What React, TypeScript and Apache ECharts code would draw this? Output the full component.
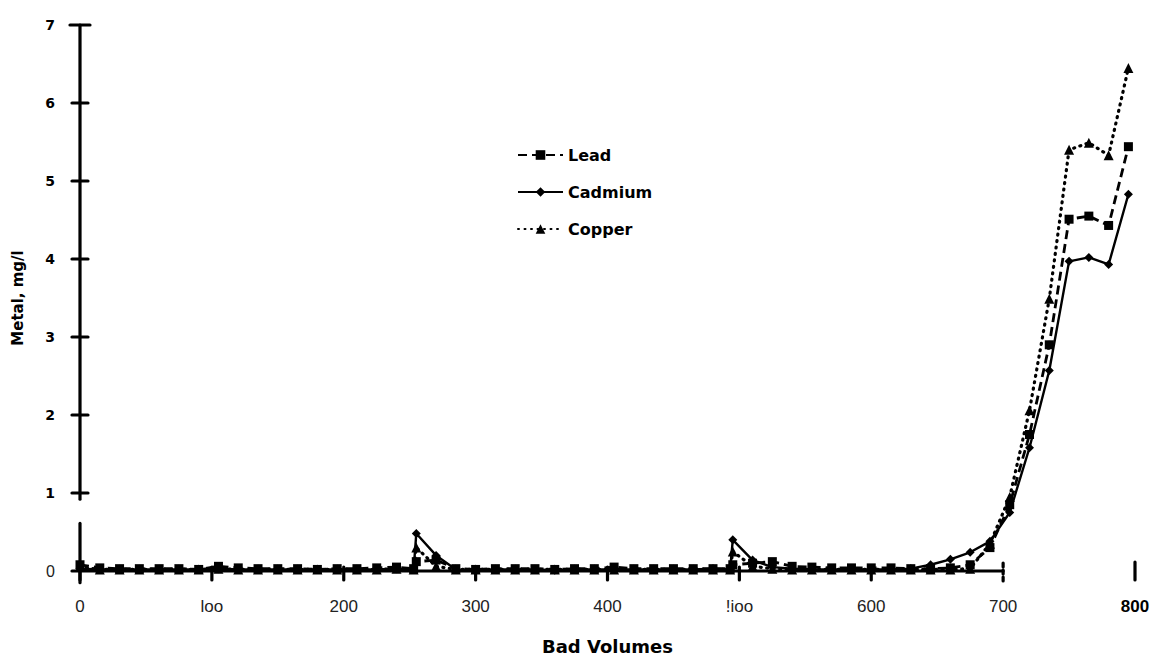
import React, { useEffect, useRef } from "react";
import * as echarts from "echarts";

// Bed volumes at which the effluent was sampled
const bedVolumes = [
  0, 15, 30, 45, 60, 75, 90, 105, 120, 135, 150, 165, 180, 195, 210, 225, 240, 253, 255,
  270, 285, 300, 315, 330, 345, 360, 375, 390, 405, 420, 435, 450, 465, 480, 493, 495,
  510, 525, 540, 555, 570, 585, 600, 615, 630, 645, 660, 675, 690, 705, 720, 735,
  750, 765, 780, 795,
];

// Effluent concentrations, mg/l
const lead = [
  0.08, 0.04, 0.03, 0.03, 0.03, 0.03, 0.02, 0.06, 0.04, 0.03, 0.03, 0.03, 0.02, 0.03, 0.03, 0.04, 0.05, 0.03, 0.12,
  0.14, 0.03, 0.02, 0.03, 0.03, 0.03, 0.02, 0.03, 0.03, 0.05, 0.03, 0.03, 0.03, 0.03, 0.03, 0.03, 0.08,
  0.1, 0.12, 0.06, 0.05, 0.04, 0.04, 0.04, 0.04, 0.03, 0.03, 0.04, 0.08, 0.3, 0.85, 1.75, 2.9,
  4.51, 4.55, 4.43, 5.44,
];
const cadmium = [
  0.03, 0.02, 0.02, 0.02, 0.02, 0.02, 0.02, 0.03, 0.02, 0.02, 0.02, 0.02, 0.02, 0.02, 0.02, 0.02, 0.03, 0.02, 0.48,
  0.2, 0.02, 0.01, 0.02, 0.02, 0.02, 0.01, 0.02, 0.02, 0.02, 0.02, 0.02, 0.02, 0.02, 0.03, 0.02, 0.4,
  0.14, 0.05, 0.03, 0.02, 0.02, 0.02, 0.02, 0.02, 0.03, 0.08, 0.15, 0.24, 0.38, 0.75, 1.58, 2.57,
  3.97, 4.02, 3.93, 4.83,
];
const copper = [
  0.05, 0.02, 0.02, 0.02, 0.02, 0.02, 0.02, 0.03, 0.02, 0.02, 0.02, 0.02, 0.02, 0.02, 0.02, 0.02, 0.03, 0.02, 0.3,
  0.06, 0.02, 0.02, 0.02, 0.02, 0.02, 0.02, 0.02, 0.02, 0.02, 0.02, 0.02, 0.02, 0.02, 0.02, 0.02, 0.25,
  0.06, 0.03, 0.02, 0.02, 0.02, 0.02, 0.02, 0.02, 0.02, 0.02, 0.02, 0.03, 0.35, 0.95, 2.06, 3.49,
  5.4, 5.49, 5.33, 6.45,
];

const xTickLabels = ["0", "loo", "200", "300", "400", "!ioo", "600", "700", "800"];
const yTicks = [0, 1, 2, 3, 4, 5, 6, 7];

const FONT = "'Liberation Sans', Arial, sans-serif";
const BOLD_FONT = "'DejaVu Sans', 'Liberation Sans', sans-serif";

const pairs = (ys: number[]) => bedVolumes.map((x, i) => [x, ys[i]]);

export default function App() {
  const ref = useRef<HTMLDivElement>(null);

  useEffect(() => {
    if (!ref.current) return;
    const chart = echarts.init(ref.current, undefined, { renderer: "svg" });

    chart.setOption({
      animation: false,
      backgroundColor: "#ffffff",
      grid: { left: 80, right: 22, top: 25, bottom: 87 },
      legend: {
        orient: "vertical",
        left: 512,
        top: 142,
        itemWidth: 45,
        itemHeight: 12,
        itemGap: 21,
        textStyle: { fontFamily: BOLD_FONT, fontWeight: "bold", fontSize: 16, color: "#000" },
        data: ["Lead", "Cadmium", "Copper"],
      },
      xAxis: {
        type: "value",
        min: 0,
        max: 800,
        interval: 100,
        name: "Bad Volumes",
        nameLocation: "middle",
        nameGap: 66,
        nameTextStyle: { fontFamily: BOLD_FONT, fontWeight: "bold", fontSize: 18, color: "#000" },
        axisLine: { show: false },
        axisTick: { show: false },
        splitLine: { show: false },
        axisLabel: {
          margin: 27,
          fontFamily: FONT,
          fontSize: 17,
          color: "#222",
          formatter: (v: number) => {
            const i = Math.round(v / 100);
            return i === 8 ? "{b|" + xTickLabels[i] + "}" : xTickLabels[i];
          },
          rich: {
            b: { fontFamily: FONT, fontWeight: "bold", fontSize: 17, color: "#000" },
          },
        },
      },
      yAxis: {
        type: "value",
        min: 0,
        max: 7,
        interval: 1,
        name: "Metal, mg/l",
        nameLocation: "middle",
        nameGap: 55,
        nameTextStyle: { fontFamily: BOLD_FONT, fontWeight: "bold", fontSize: 15, color: "#000" },
        axisLine: { show: false },
        axisTick: { show: false },
        splitLine: { show: false },
        axisLabel: {
          margin: 25,
          fontFamily: BOLD_FONT,
          fontWeight: "bold",
          fontSize: 14,
          color: "#000",
          formatter: (v: number) => (v === 0 ? "{n|0}" : String(v)),
          rich: { n: { fontFamily: FONT, fontWeight: "normal", fontSize: 16, color: "#222", padding: [0, 0, 0, 6] } },
        },
      },
      series: [
        {
          name: "Lead",
          type: "line",
          data: pairs(lead),
          symbol: "rect",
          symbolSize: 9,
          itemStyle: { color: "#000" },
          lineStyle: { color: "#000", width: 2.8, type: [9, 5] },
          z: 3,
        },
        {
          name: "Cadmium",
          type: "line",
          data: pairs(cadmium),
          symbol: "diamond",
          symbolSize: 9,
          itemStyle: { color: "#000" },
          lineStyle: { color: "#000", width: 2.4, type: "solid" },
          z: 3,
        },
        {
          name: "Copper",
          type: "line",
          data: pairs(copper),
          symbol: "triangle",
          symbolSize: 10,
          itemStyle: { color: "#000" },
          lineStyle: { color: "#000", width: 3.2, type: [1, 5.5], cap: "round" },
          z: 3,
        },
      ],
    });

    // Hand-drawn style axes: broken value axis with crossing ticks, bed-volume axis ending at 700
    const px = (x: number, y: number) =>
      chart.convertToPixel({ gridIndex: 0 }, [x, y]) as number[];
    const stroke = { stroke: "#000", lineWidth: 3.2, lineCap: "round" };
    const graphics: any[] = [];
    const line = (a: number[], b: number[], style: any = stroke) =>
      graphics.push({
        type: "line",
        silent: true,
        z: 10,
        shape: { x1: a[0], y1: a[1], x2: b[0], y2: b[1] },
        style,
      });

    const top = px(0, 7);
    const breakHi = px(0, 0.92);
    const breakLo = px(0, 0.61);
    const bottom = px(0, -0.15);
    line(top, breakHi);
    line(breakLo, bottom);
    yTicks.forEach((v) => {
      if (v === 0) return;
      const p = px(0, v);
      const w = v === 7 ? 10 : 8;
      line([p[0] - w, p[1]], [p[0] + w, p[1]]);
    });

    const origin = px(0, 0);
    const end = px(700, 0);
    line([origin[0] - 8, origin[1]], end);
    for (let v = 0; v <= 600; v += 100) {
      const p = px(v, 0);
      line([p[0], p[1] - 4], [p[0], p[1] + 9]);
    }
    line([end[0], end[1] - 8], [end[0], end[1] + 12], { ...stroke, lineDash: [4, 3] });
    const last = px(800, 0);
    line([last[0], last[1] - 9], [last[0], last[1] + 9]);

    chart.setOption({ graphic: graphics });

    return () => chart.dispose();
  }, []);

  return (
    <div
      ref={ref}
      style={{ position: "absolute", left: 0, top: 0, width: 1157, height: 660 }}
    />
  );
}
